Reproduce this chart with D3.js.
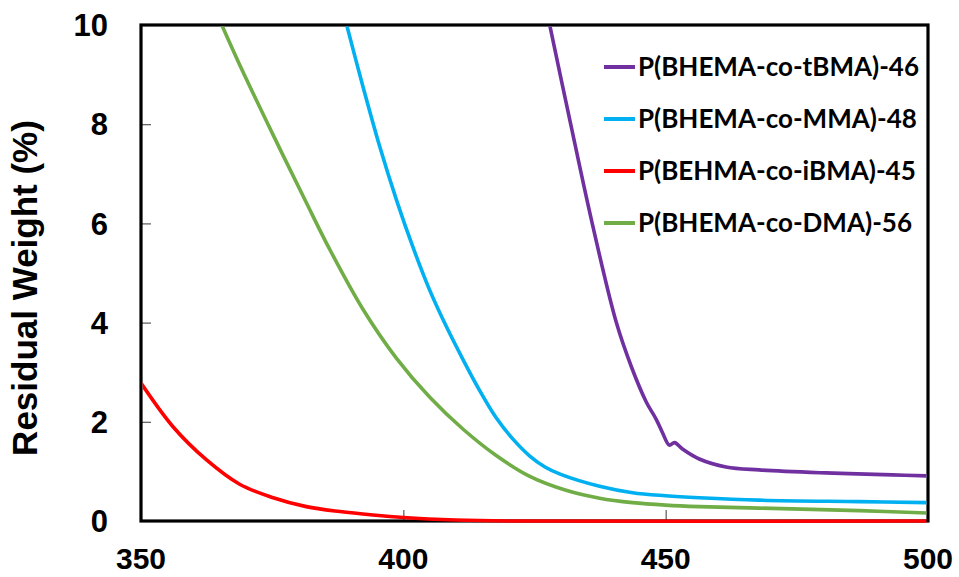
<!DOCTYPE html>
<html lang="en">
  <head>
    <meta charset="UTF-8" />
    <title>Residual weight</title>
    <script src="https://cdn.jsdelivr.net/npm/d3@7"></script>
    <style>
      body { margin: 0; background: #fff; }
    </style>
  </head>
  <body>
    <svg id="svg"></svg>
  </body>
  <script>
    // data: temperature (°C) vs residual weight (%)
    const tbmaT = [427.9, 431.9, 436.0, 440.6, 443.5, 446.3, 448.2, 449.4, 450.7, 451.7, 453.2, 456.4, 461.5, 467.8, 480.5, 493.2, 500];
    const tbmaW = [10, 8, 6, 4, 3.1, 2.4, 2.05, 1.78, 1.53, 1.58, 1.45, 1.25, 1.09, 1.03, 0.97, 0.93, 0.91];

    const mmaT = [389.2, 392.3, 395.5, 398.7, 401.8, 405.0, 408.2, 411.4, 414.5, 417.7, 420.9, 424.1, 427, 430, 437.4, 443.7, 450, 456.4, 467.8, 486.9, 500];
    const mmaW = [10, 8.76, 7.55, 6.47, 5.53, 4.66, 3.92, 3.25, 2.64, 2.08, 1.65, 1.31, 1.09, 0.94, 0.7, 0.57, 0.51, 0.47, 0.42, 0.39, 0.37];

    const ibmaT = [350, 356.1, 362.5, 368.8, 375.2, 381.5, 387.9, 394.2, 400, 410, 420, 500];
    const ibmaW = [2.78, 1.9, 1.23, 0.74, 0.47, 0.29, 0.19, 0.12, 0.07, 0.02, 0, 0];

    const dmaT = [365.4, 368.8, 375.2, 381.5, 386, 392.3, 398.7, 405, 411.4, 417.7, 424.1, 431, 437.4, 443.7, 450, 456.4, 467.8, 486.9, 500];
    const dmaW = [10, 9.2, 7.78, 6.42, 5.47, 4.27, 3.28, 2.5, 1.85, 1.32, 0.9, 0.62, 0.46, 0.37, 0.32, 0.29, 0.26, 0.21, 0.16];

    const seriesNames = ["P(BHEMA-co-tBMA)-46", "P(BHEMA-co-MMA)-48", "P(BEHMA-co-iBMA)-45", "P(BHEMA-co-DMA)-56"];
    const seriesColors = ["#7030A0", "#00B0F0", "#FF0000", "#70AD47"];
    const xTicks = [350, 400, 450, 500];
    const yTicks = [0, 2, 4, 6, 8, 10];

    const series = [
      { name: seriesNames[0], color: seriesColors[0], t: tbmaT, w: tbmaW },
      { name: seriesNames[1], color: seriesColors[1], t: mmaT, w: mmaW },
      { name: seriesNames[2], color: seriesColors[2], t: ibmaT, w: ibmaW },
      { name: seriesNames[3], color: seriesColors[3], t: dmaT, w: dmaW },
    ];

    const W = 959, H = 577;
    const m = { left: 141, right: 31, top: 25, bottom: 56 };
    const svg = d3.select("#svg").attr("width", W).attr("height", H);

    const x = d3.scaleLinear().domain([350, 500]).range([m.left, W - m.right]);
    const y = d3.scaleLinear().domain([0, 10]).range([H - m.bottom, m.top]);

    // clip: stop under the top border, let the lines lie over the bottom axis
    svg.append("defs").append("clipPath").attr("id", "plot-clip")
      .append("rect")
      .attr("x", m.left + 1.6).attr("y", m.top + 1.6)
      .attr("width", W - m.left - m.right - 3.2).attr("height", H - m.top - m.bottom + 2);

    // inward ticks
    const yAxis = d3.axisRight(y).tickValues([2, 4, 6, 8]).tickSize(10).tickFormat("");
    svg.append("g").attr("transform", `translate(${m.left},0)`).call(yAxis)
      .call(g => g.select(".domain").remove())
      .call(g => g.selectAll("line").attr("stroke", "#595959").attr("stroke-width", 1.2));
    const xAxis = d3.axisTop(x).tickValues([400, 450]).tickSize(11).tickFormat("");
    svg.append("g").attr("transform", `translate(0,${H - m.bottom})`).call(xAxis)
      .call(g => g.select(".domain").remove())
      .call(g => g.selectAll("line").attr("stroke", "#595959").attr("stroke-width", 1.2));

    // tick labels
    svg.append("g").selectAll("text").data(yTicks).join("text")
      .attr("x", 108).attr("y", d => y(d)).attr("dy", "0.36em")
      .attr("text-anchor", "end")
      .attr("font-family", "Liberation Sans, Arial, sans-serif")
      .attr("font-weight", "bold").attr("font-size", 31)
      .text(d => d);
    svg.append("g").selectAll("text").data(xTicks).join("text")
      .attr("x", d => x(d)).attr("y", 569)
      .attr("text-anchor", "middle")
      .attr("font-family", "Liberation Sans, Arial, sans-serif")
      .attr("font-weight", "bold").attr("font-size", 30)
      .text(d => d);

    svg.append("text")
      .attr("transform", "translate(37,288) rotate(-90)")
      .attr("text-anchor", "middle")
      .attr("font-family", "Liberation Sans, Arial, sans-serif")
      .attr("font-weight", "bold").attr("font-size", 35)
      .text("Residual Weight (%)");

    // frame
    svg.append("rect")
      .attr("x", m.left).attr("y", m.top)
      .attr("width", W - m.left - m.right).attr("height", H - m.top - m.bottom)
      .attr("fill", "none").attr("stroke", "#000").attr("stroke-width", 3.2);

    // curves
    const line = d3.line().x(d => x(d[0])).y(d => y(d[1])).curve(d3.curveCatmullRom.alpha(0.5));
    svg.append("g").attr("clip-path", "url(#plot-clip)")
      .selectAll("path").data(series).join("path")
      .attr("d", s => line(s.t.map((t, i) => [t, s.w[i]])))
      .attr("fill", "none")
      .attr("stroke", s => s.color)
      .attr("stroke-width", 3.6)
      .attr("stroke-linejoin", "round");

    // legend
    const leg = svg.append("g").selectAll("g").data(series).join("g")
      .attr("transform", (d, i) => `translate(604,${67 + i * 52})`);
    leg.append("line").attr("x1", 0).attr("x2", 31).attr("y1", 0).attr("y2", 0)
      .attr("stroke", d => d.color).attr("stroke-width", 4);
    leg.append("text").attr("x", 34).attr("dy", "0.36em")
      .attr("font-family", "Lato, Open Sans, sans-serif")
      .attr("font-weight", "bold").attr("font-size", 26)
      .text(d => d.name);
  </script>
</html>
